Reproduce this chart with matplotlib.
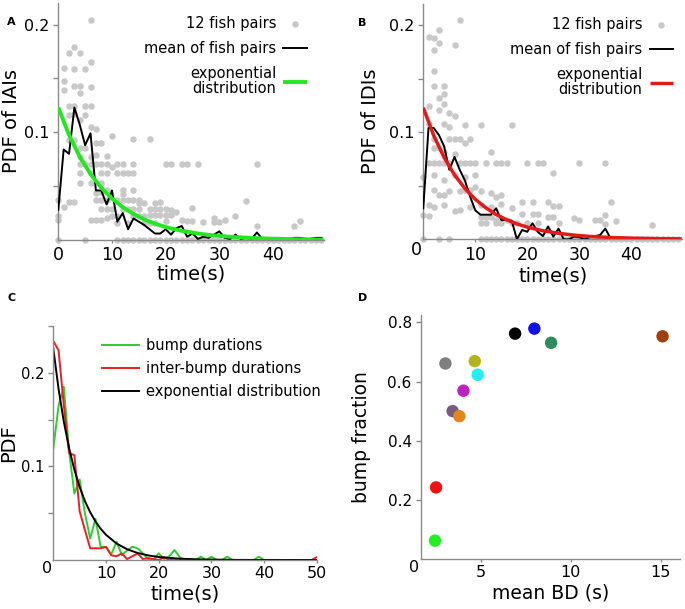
import matplotlib
matplotlib.use("Agg")
import matplotlib.pyplot as plt

plt.rcParams['font.family'] = ['DejaVu Sans']

GREY_DOT = '#c8c8c8'
SPINE = '#8a8a8a'

# A: PDF of inter-approach intervals, values of the 12 fish pairs per 1 s bin
iai_pairs = [
    [0.0, 0.019, 0.022, 0.037],
    [0.031, 0.139, 0.148, 0.160],
    [0.035, 0.093, 0.116, 0.124, 0.174],
    [0.035, 0.093, 0.117, 0.124, 0.143, 0.159, 0.179],
    [0.053, 0.062, 0.071, 0.077, 0.085, 0.111, 0.136, 0.143, 0.174],
    [0.0, 0.071, 0.085, 0.116, 0.124, 0.159],
    [0.019, 0.053, 0.062, 0.071, 0.077, 0.105, 0.124, 0.142, 0.165, 0.204],
    [0.019, 0.037, 0.044, 0.071, 0.079, 0.090, 0.103],
    [0.019, 0.029, 0.037, 0.045, 0.053, 0.062, 0.071, 0.090],
    [0.020, 0.029, 0.037, 0.046, 0.062, 0.071, 0.078],
    [0.022, 0.029, 0.068, 0.097],
    [0.0, 0.016, 0.022, 0.037, 0.062, 0.071],
    [0.0, 0.029, 0.037, 0.043, 0.046, 0.062, 0.071],
    [0.0, 0.016, 0.029, 0.037, 0.062],
    [0.0, 0.022, 0.029, 0.037, 0.046, 0.062, 0.071, 0.094],
    [0.0, 0.022, 0.029, 0.034, 0.037],
    [0.0, 0.016, 0.022, 0.034],
    [0.0, 0.016, 0.023, 0.029, 0.094],
    [0.0, 0.016, 0.023, 0.029, 0.034],
    [0.0, 0.023, 0.029, 0.035],
    [0.0, 0.018, 0.023, 0.029, 0.071],
    [0.0, 0.023, 0.028, 0.071],
    [0.0, 0.026],
    [0.0, 0.019, 0.071],
    [0.0, 0.018, 0.071],
    [0.0, 0.018, 0.030],
    [0.0, 0.071],
    [0.0, 0.017],
    [0.0],
    [0.0, 0.017, 0.020],
    [0.0, 0.017],
    [0.0, 0.019],
    [0.0],
    [0.0, 0.022],
    [0.0],
    [0.0, 0.036],
    [0.0],
    [0.0, 0.013, 0.071],
    [0.0], [0.0], [0.0], [0.0], [0.0], [0.0],
    [0.0, 0.013],
    [0.0, 0.018],
    [0.0], [0.0], [0.0], [0.0],
]
iai_mean = [0.028, 0.084, 0.080, 0.123, 0.107, 0.088, 0.099, 0.046, 0.046, 0.033,
            0.046, 0.017, 0.025, 0.010, 0.020, 0.017, 0.014, 0.010, 0.006, 0.006,
            0.010, 0.005, 0.011, 0.013, 0.003, 0.006, 0.001, 0.003, 0.002, 0.005,
            0.008, 0.002, 0.001, 0.005, 0.001, 0.002, 0.001, 0.007, 0.001, 0.001,
            0.001, 0.002, 0.001, 0.001, 0.002, 0.002, 0.001, 0.001, 0.002, 0.002]
iai_exp_t = [0, 2, 4, 6, 8, 10, 12, 14, 16, 18, 20, 23, 26, 29, 32, 36, 40, 44, 49.4]
iai_exp = [0.123, 0.0975, 0.0773, 0.0612, 0.0485, 0.0385, 0.0305, 0.0242, 0.0191,
           0.0152, 0.0120, 0.0085, 0.0060, 0.0042, 0.0030, 0.0019, 0.0012, 0.0007,
           0.0004]

# B: PDF of inter-departure intervals
idi_pairs = [
    [0.0, 0.023, 0.058],
    [0.022, 0.032, 0.071, 0.108, 0.125, 0.189],
    [0.030, 0.046, 0.060, 0.071, 0.085, 0.094, 0.143, 0.157, 0.177, 0.188],
    [0.0, 0.041, 0.071, 0.085, 0.121, 0.132, 0.183, 0.196],
    [0.032, 0.041, 0.055, 0.071, 0.082, 0.108, 0.126, 0.136, 0.143],
    [0.0, 0.045, 0.071, 0.094, 0.105, 0.118],
    [0.026, 0.060, 0.080, 0.094, 0.115, 0.182],
    [0.027, 0.045, 0.071, 0.094, 0.205],
    [0.046, 0.058, 0.071, 0.090, 0.107],
    [0.030, 0.046, 0.071, 0.094],
    [0.049, 0.060, 0.071],
    [0.0, 0.015, 0.021, 0.032, 0.045, 0.107],
    [0.0, 0.015, 0.021, 0.071],
    [0.0, 0.021, 0.030, 0.043, 0.082],
    [0.0, 0.015, 0.018, 0.040, 0.071],
    [0.0, 0.015, 0.033, 0.041, 0.071],
    [0.0, 0.018, 0.071],
    [0.0, 0.015, 0.029, 0.107],
    [0.0, 0.015],
    [0.0, 0.024, 0.035],
    [0.0, 0.015, 0.071],
    [0.0, 0.024, 0.035],
    [0.0, 0.015, 0.024, 0.071],
    [0.0, 0.071],
    [0.0, 0.021, 0.035],
    [0.0, 0.021, 0.031, 0.062],
    [0.0, 0.015, 0.031],
    [0.0], [0.0],
    [0.0, 0.020],
    [0.0, 0.018, 0.071],
    [0.0], [0.0],
    [0.0, 0.018],
    [0.0, 0.018],
    [0.0, 0.014, 0.023, 0.071],
    [0.0, 0.035],
    [0.0, 0.017],
    [0.0], [0.0], [0.0], [0.0], [0.0], [0.0],
    [0.0, 0.013],
    [0.0], [0.0], [0.0], [0.0], [0.0],
]
idi_mean = [0.029, 0.104, 0.104, 0.0975, 0.087, 0.065, 0.077, 0.065, 0.055, 0.040,
            0.027, 0.023, 0.023, 0.023, 0.029, 0.018, 0.018, 0.0175, 0.0, 0.0087,
            0.007, 0.015, 0.007, 0.003, 0.012, 0.0025, 0.010, 0.0, 0.0, 0.0025,
            0.002, 0.0, 0.002, 0.003, 0.004, 0.010, 0.001, 0.0, 0.001, 0.0,
            0.001, 0.0, 0.001, 0.001, 0.0, 0.001, 0.0, 0.001, 0.001, 0.0]
idi_exp_t = [0, 2, 4, 6, 8, 10, 12, 14, 16, 18, 20, 23, 26, 29, 32, 36, 40, 44, 49.7]
idi_exp = [0.123, 0.0970, 0.0764, 0.0602, 0.0475, 0.0374, 0.0295, 0.0232, 0.0183,
           0.0144, 0.0114, 0.0080, 0.0056, 0.0039, 0.0027, 0.0017, 0.0011, 0.0007,
           0.0004]

# C: bump / inter-bump duration PDFs, one value per 1 s bin (0..50 s)
bump_pdf = [0.119, 0.165, 0.185, 0.116, 0.071, 0.086, 0.050, 0.023, 0.044, 0.014,
            0.014, 0.006, 0.0196, 0.0053, 0.010, 0.0142, 0.0124, 0.0071, 0.001, 0.0,
            0.0071, 0.001, 0.004, 0.0107, 0.003, 0.0, 0.0, 0.0, 0.0035, 0.0,
            0.0035, 0.0, 0.0, 0.0035, 0.0, 0.0, 0.0, 0.0, 0.0, 0.0035,
            0.0, 0.0, 0.0, 0.0, 0.0, 0.0, 0.0, 0.0, 0.0, 0.0, 0.0]
interbump_pdf = [0.234, 0.224, 0.165, 0.114, 0.112, 0.052, 0.032, 0.0125, 0.0125, 0.0125,
                 0.014, 0.005, 0.004, 0.007, 0.001, 0.004, 0.007, 0.001, 0.002, 0.001,
                 0.0, 0.003, 0.0, 0.001, 0.0, 0.0, 0.0, 0.0, 0.0, 0.0,
                 0.0, 0.0, 0.0, 0.0, 0.0, 0.0, 0.0, 0.0, 0.0, 0.0,
                 0.0, 0.0, 0.0, 0.0, 0.0, 0.0, 0.0, 0.0, 0.0, 0.0, 0.003]
bump_exp_t = [0, 1, 2, 3, 4, 5, 6, 7, 8, 9, 10, 12, 14, 16, 18, 20, 24, 28, 35, 50]
bump_exp = [0.226, 0.1827, 0.1477, 0.1194, 0.0965, 0.0780, 0.0630, 0.0510, 0.0412,
            0.0333, 0.0269, 0.0176, 0.0115, 0.0075, 0.0049, 0.0032, 0.0014, 0.0006,
            0.0001, 0.0]

# D: bump fraction vs mean bump duration, one point per fish pair
mean_bd = [2.46, 2.52, 3.04, 3.44, 3.81, 4.04, 4.67, 4.83, 6.91, 7.98, 8.91, 15.1]
bump_fraction = [0.062, 0.242, 0.661, 0.50, 0.483, 0.569, 0.669, 0.623,
                 0.762, 0.779, 0.731, 0.753]
pair_colors = ['#22ee22', '#ee1111', '#808080', '#7a5a7e', '#e0861a', '#c020c0',
               '#b5b51a', '#20f0f0', '#000000', '#1010ee', '#2e8b60', '#a0400a']

W, H = 685, 609


def px_axes(fig, left, right, bottom, top):
    return fig.add_axes([left / W, 1 - bottom / H, (right - left) / W, (bottom - top) / H])


def style(ax, xsize, ysize):
    for s in ("top", "right"):
        ax.spines[s].set_visible(False)
    for s in ("left", "bottom"):
        ax.spines[s].set_color(SPINE)
        ax.spines[s].set_linewidth(1.0)
    ax.tick_params(axis="y", direction="out", length=3.5, width=1, color=SPINE,
                   labelsize=ysize, pad=3)
    ax.tick_params(axis="x", direction="out", length=2.5, width=1, color=SPINE,
                   labelsize=xsize, pad=2)


def corner_zero(ax, size):
    ax.annotate("0", xy=(0, 0), xycoords="axes fraction", xytext=(-1, -1),
                textcoords="offset points", ha="right", va="top", fontsize=size)


def flatten(columns):
    xs = [t for t, col in enumerate(columns) for _ in col]
    ys = [v for col in columns for v in col]
    return xs, ys


fig = plt.figure(figsize=(W / 100, H / 100), dpi=100)

# ---- A
axA = px_axes(fig, 58.3, 324, 240, 3)
x, y = flatten(iai_pairs)
axA.scatter(x, y, s=22, color=GREY_DOT, linewidths=0, clip_on=False, zorder=2,
            label="12 fish pairs")
axA.plot(range(len(iai_mean)), iai_mean, color="black", lw=1.4, zorder=3,
         label="mean of fish pairs")
axA.plot(iai_exp_t, iai_exp, color="#22e822", lw=2.8, zorder=4,
         solid_capstyle="butt", label="exponential\ndistribution")
axA.set_xlim(0, 49.5)
axA.set_ylim(0, 0.22)
axA.set_xticks([0, 10, 20, 30, 40])
axA.set_yticks([0.05, 0.1, 0.15, 0.2])
axA.set_yticklabels(["", "0.1", "", "0.2"])
style(axA, 12.5, 11.5)
axA.set_xlabel("time(s)", fontsize=14, labelpad=0)
axA.set_ylabel("PDF of IAIs", fontsize=14, labelpad=2)

# ---- B
axB = px_axes(fig, 423.3, 682, 239.3, 3.9)
x, y = flatten(idi_pairs)
axB.scatter(x, y, s=22, color=GREY_DOT, linewidths=0, clip_on=False, zorder=2,
            label="12 fish pairs")
axB.plot(range(len(idi_mean)), idi_mean, color="black", lw=1.4, zorder=3,
         label="mean of fish pairs")
axB.plot(idi_exp_t, idi_exp, color="#e41a1a", lw=2.5, zorder=4,
         solid_capstyle="butt", label="exponential\ndistribution")
axB.set_xlim(0, 49.75)
axB.set_ylim(0, 0.22)
axB.set_xticks([10, 20, 30, 40])
axB.set_yticks([0.05, 0.1, 0.15, 0.2])
axB.set_yticklabels(["", "0.1", "", "0.2"])
style(axB, 12.5, 11.5)
corner_zero(axB, 12.5)
axB.set_xlabel("time(s)", fontsize=14, labelpad=2)
axB.set_ylabel("PDF of IDIs", fontsize=14, labelpad=6)

for ax, anchor in ((axA, (0.935, 0.945)), (axB, (0.965, 0.944))):
    leg = ax.legend(loc="upper right", bbox_to_anchor=anchor, frameon=False,
                    fontsize=10.5, markerfirst=False, scatterpoints=1,
                    handlelength=1.6, handletextpad=0.5, labelspacing=0.7,
                    borderpad=0, borderaxespad=0)
    for t in leg.get_texts():
        t.set_multialignment("right")
        t.set_linespacing(0.95)

# ---- C
axC = px_axes(fig, 53.3, 316.8, 560, 326)
t_bins = range(len(bump_pdf))
axC.plot(t_bins, bump_pdf, color="#2ecc2e", lw=1.4, label="bump durations")
axC.plot(t_bins, interbump_pdf, color="#e82020", lw=1.4, label="inter-bump durations")
axC.plot(bump_exp_t, bump_exp, color="black", lw=1.4, label="exponential distribution")
axC.set_xlim(0, 50)
axC.set_ylim(0, 0.25)
axC.set_xticks([10, 20, 30, 40, 50])
axC.set_yticks([0.05, 0.1, 0.15, 0.2, 0.25])
axC.set_yticklabels(["", "0.1", "", "0.2", ""])
style(axC, 11.5, 10.5)
corner_zero(axC, 11.5)
axC.set_xlabel("time(s)", fontsize=14, labelpad=2)
axC.set_ylabel("PDF", fontsize=14, labelpad=2)
axC.legend(loc="upper left", bbox_to_anchor=(0.185, 0.947), frameon=False,
           fontsize=10.5, handlelength=2.5, handletextpad=0.5, labelspacing=0.55,
           borderpad=0, borderaxespad=0)

# ---- D
axD = px_axes(fig, 420.7, 680, 559, 315)
axD.scatter(mean_bd, bump_fraction, s=80, c=pair_colors, linewidths=0, zorder=3)
axD.set_xlim(1.667, 16.07)
axD.set_ylim(0, 0.825)
axD.set_xticks([5, 10, 15])
axD.set_yticks([0.2, 0.4, 0.6, 0.8])
axD.set_yticklabels(["0.2", "0.4", "0.6", "0.8"])
style(axD, 11.5, 11)
corner_zero(axD, 11.5)
axD.set_xlabel("mean BD (s)", fontsize=13.5, labelpad=2)
axD.set_ylabel("bump fraction", fontsize=13.5, labelpad=12)

# panel letters
for letter, (px, py) in {"A": (7, 25), "B": (358, 26), "C": (7, 301), "D": (358, 301)}.items():
    fig.text(px / W, 1 - py / H, letter, fontsize=8, fontweight="bold")

fig.savefig("out.png", dpi=100)
